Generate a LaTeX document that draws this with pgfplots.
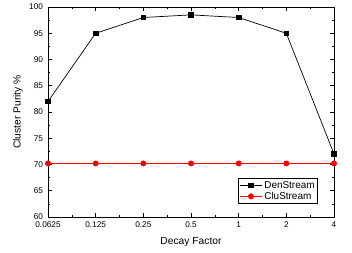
\documentclass[border=0pt]{standalone}
\usepackage{pgfplots}
\pgfplotsset{compat=1.18}
\usepackage{fontspec}
\setmainfont{Liberation Sans}
\begin{document}
\begin{tikzpicture}
\begin{axis}[
  scale only axis,
  width=286bp, height=210bp,
  xmin=0, xmax=6, ymin=60, ymax=100,
  xtick={0,1,2,3,4,5,6},
  xticklabels={0.0625,0.125,0.25,0.5,1,2,4},
  ytick={60,65,70,75,80,85,90,95,100},
  minor x tick num=1,
  minor y tick num=1,
  tick align=inside,
  major tick length=4bp,
  minor tick length=2bp,
  tick style={black, line width=0.6pt},
  axis line style={line width=0.8pt},
  ticklabel style={font=\fontsize{8.3}{9.5}\selectfont},
  xticklabel style={yshift=-1bp},
  yticklabel style={xshift=-1.5bp},
  /pgf/number format/assume math mode=true,
  xlabel={Decay Factor},
  ylabel={Cluster Purity \%},
  label style={font=\fontsize{10.3}{12}\selectfont},
  xlabel style={at={([yshift=-25bp]axis description cs:0.5,0)}, anchor=center},
  ylabel style={at={([xshift=-30bp]axis description cs:0,0.5)}, anchor=center},
  legend style={at={(0.944,0.062)}, anchor=south east, font=\fontsize{10}{11}\selectfont, draw=black, line width=0.6pt, inner sep=1pt, row sep=-1.5pt},
  legend image code/.code={\draw[#1] (0bp,0bp) -- (22bp,0bp); \draw[#1, mark repeat=2, mark phase=2] plot coordinates {(0bp,0bp) (11bp,0bp) (22bp,0bp)};},
  legend cell align=left,
  clip=false,
]
\addplot[black, line width=0.7pt, mark=square*, mark size=2.2bp, mark options={solid}] coordinates {
(0,82) (1,95) (2,98) (3,98.5) (4,98) (5,95) (6,72)};
\addlegendentry{DenStream}
\addplot[red, line width=0.7pt, mark=*, mark size=2.6bp] coordinates {
(0,70.2) (1,70.2) (2,70.2) (3,70.2) (4,70.2) (5,70.2) (6,70.2)};
\addlegendentry{CluStream}
\coordinate (bl) at (rel axis cs:0,0);
\coordinate (tr) at (rel axis cs:1,1);
\end{axis}
\pgfresetboundingbox
\path ([shift={(-48bp,-35bp)}]bl) rectangle ([shift={(18bp,7bp)}]tr);
\end{tikzpicture}
\end{document}
